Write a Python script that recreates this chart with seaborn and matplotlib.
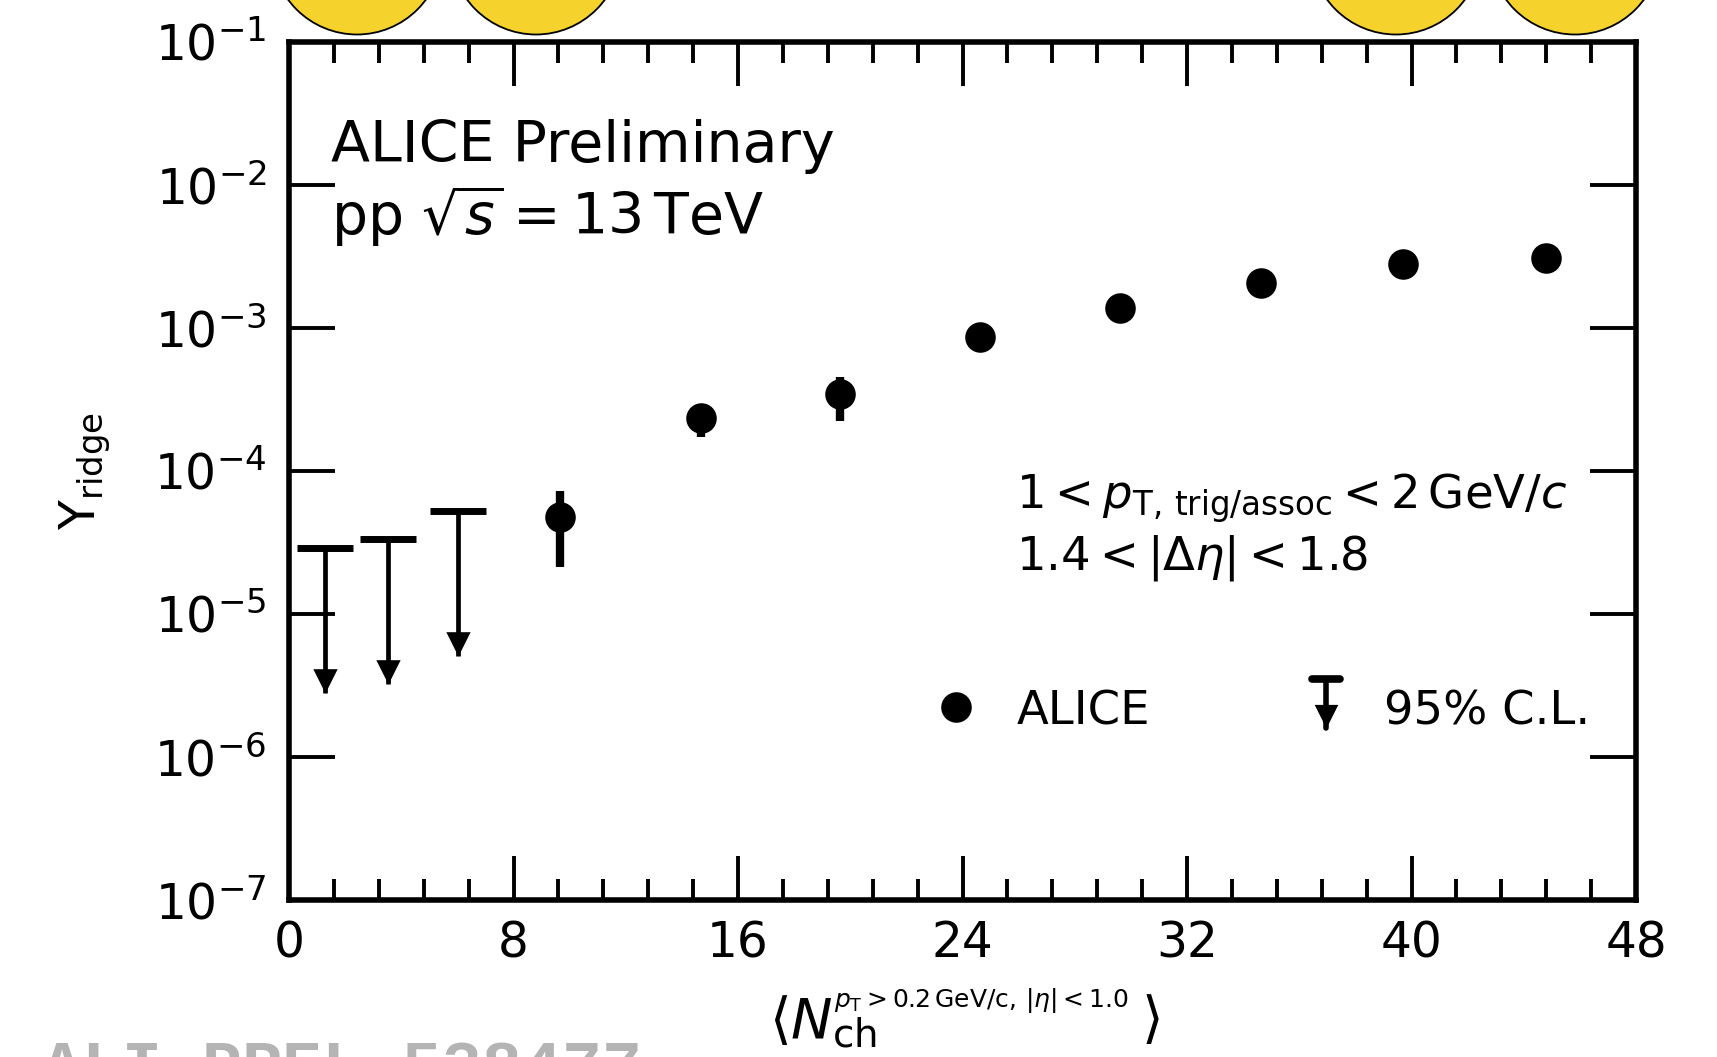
import matplotlib
matplotlib.use("Agg")
import matplotlib.pyplot as plt
from matplotlib.ticker import MultipleLocator, LogLocator, NullLocator
from matplotlib.patches import Ellipse
import pandas as pd
import seaborn as sns

# Ridge yield vs. charged-particle multiplicity (pp, 13 TeV)
nch = [9.66, 14.67, 19.64, 24.63, 29.60, 34.65, 39.70, 44.80]
y_ridge = [4.76e-5, 2.35e-4, 3.45e-4, 8.6e-4, 1.38e-3, 2.04e-3, 2.80e-3, 3.05e-3]
err_low = [2.63e-5, 0.62e-4, 1.21e-4, 0.7e-4, 1.0e-4, 1.3e-4, 1.7e-4, 1.9e-4]
err_high = [2.44e-5, 0.40e-4, 1.10e-4, 0.7e-4, 1.0e-4, 1.3e-4, 1.7e-4, 1.9e-4]

# 95% C.L. upper limits at low multiplicity
ul_nch = [1.28, 3.54, 6.01]
ul_value = [2.88e-5, 3.34e-5, 5.27e-5]
ul_tip = [2.79e-6, 3.24e-6, 5.09e-6]

x_ticks = [0, 8, 16, 24, 32, 40, 48]

sns.set_theme(style="ticks")
plt.rcParams["font.family"] = ["DejaVu Sans"]
plt.rcParams["mathtext.fontset"] = "dejavusans"
plt.rcParams["text.color"] = "black"
plt.rcParams["axes.labelcolor"] = "black"
plt.rcParams["xtick.color"] = "black"
plt.rcParams["ytick.color"] = "black"

W, H = 1717, 1057
fig = plt.figure(figsize=(W / 100, H / 100), dpi=100)
ax = fig.add_axes([289 / W, 1 - 900 / H, 1347 / W, 858.4 / H])

df = pd.DataFrame({"nch": nch, "y": y_ridge})
ax.errorbar(nch, y_ridge, yerr=[err_low, err_high], fmt="none",
            ecolor="black", elinewidth=6, capsize=0, zorder=3)
sns.scatterplot(data=df, x="nch", y="y", ax=ax, color="black",
                s=22 ** 2, linewidth=0, zorder=4, legend=False)

# upper limits: bar + arrow pointing down
arrow_head = [(0, 0), (-0.5, 1.0), (0.5, 1.0), (0, 0)]
half_bar = 1.0
ax.vlines(ul_nch, ul_tip, ul_value, color="black", lw=3.4, zorder=3)
ax.hlines(ul_value, [x - half_bar for x in ul_nch], [x + half_bar for x in ul_nch],
          color="black", lw=5, zorder=3)
sns.scatterplot(x=ul_nch, y=ul_tip, ax=ax, marker=arrow_head, s=35 ** 2,
                color="black", linewidth=0, zorder=4, legend=False)

ax.set_yscale("log")
ax.set_xlim(0, 48)
ax.set_ylim(1e-7, 1e-1)
ax.set_xticks(x_ticks)
ax.xaxis.set_minor_locator(MultipleLocator(1.6))
ax.yaxis.set_major_locator(LogLocator(base=10, numticks=12))
ax.yaxis.set_minor_locator(NullLocator())

for sp in ax.spines.values():
    sp.set_linewidth(4)
    sp.set_color("black")
    sp.set_visible(True)

ax.tick_params(which="both", direction="in", top=True, right=True,
               width=2.8, color="black", labelcolor="black")
ax.tick_params(axis="x", which="major", length=31.5, pad=14, labelsize=35)
ax.tick_params(axis="x", which="minor", length=15)
ax.tick_params(axis="y", which="major", length=33, pad=16, labelsize=35)

ax.set_xlabel("")
ax.set_ylabel(r"Y$_{\mathrm{ridge}}$", fontsize=35, color="black")
ax.yaxis.set_label_coords((85 - 289) / 1347, 0.5)
ax.yaxis.label.set_va("center")

# x-axis title built from pieces so the superscript stays small
ax.text(0.3565, -0.142, r"$\langle N_{\mathrm{ch}}$", transform=ax.transAxes,
        fontsize=40, ha="left", va="center", clip_on=False)
ax.text(0.4045, -0.1245, r"$p_{\mathrm{T}}>0.2\,\mathrm{GeV/c},\,|\eta|<1.0$",
        transform=ax.transAxes, fontsize=18, ha="left", va="baseline", clip_on=False)
ax.text(0.6325, -0.142, r"$\rangle$", transform=ax.transAxes,
        fontsize=40, ha="left", va="center", clip_on=False)

# labels inside the frame
ax.text(0.0312, 0.8597, "ALICE Preliminary", transform=ax.transAxes,
        fontsize=41, va="baseline", ha="left")
ax.text(0.0312, 0.7745, r"pp $\sqrt{s} = 13\,\mathrm{TeV}$", transform=ax.transAxes,
        fontsize=41, va="baseline", ha="left")
ax.text(0.540, 0.4555, r"$1 < p_{\mathrm{T,\,trig/assoc}} < 2\,\mathrm{GeV}/c$",
        transform=ax.transAxes, fontsize=33.5, va="baseline", ha="left")
ax.text(0.540, 0.3850, r"$1.4 < |\Delta\eta| < 1.8$",
        transform=ax.transAxes, fontsize=33.5, va="baseline", ha="left")

# legend
ax.plot([0.495], [0.2248], "o", color="black", ms=22, mew=0, transform=ax.transAxes)
ax.text(0.540, 0.2039, "ALICE", transform=ax.transAxes, fontsize=33.5, va="baseline")
lx, ltop, lbot = 0.770, 0.2575, 0.2004
ax.plot([lx, lx], [lbot, ltop], color="black", lw=4, transform=ax.transAxes)
ax.plot([lx - 0.0105, lx + 0.0105], [ltop, ltop], color="black", lw=5.5,
        transform=ax.transAxes)
ax.plot([lx], [lbot], marker=arrow_head, ms=34, color="black", mew=0,
        transform=ax.transAxes)
ax.text(0.8129, 0.2039, "95% C.L.", transform=ax.transAxes, fontsize=33.5,
        va="baseline")

# watermark
fig.text(42 / W, -0.029, "ALI-PREL-538477", family="Liberation Mono",
         weight="bold", fontsize=48, color="#b4b4b4", va="baseline", ha="left")

# decorative discs at the top edge
r = 85.5
for cx in [357, 536, 1396, 1575]:
    fig.add_artist(Ellipse((cx / W, 1 + 51 / H), 2 * r / W, 2 * r / H,
                           transform=fig.transFigure, facecolor="#f5d32c",
                           edgecolor="black", lw=1.3, clip_on=False))

fig.savefig("out.png", dpi=100)
